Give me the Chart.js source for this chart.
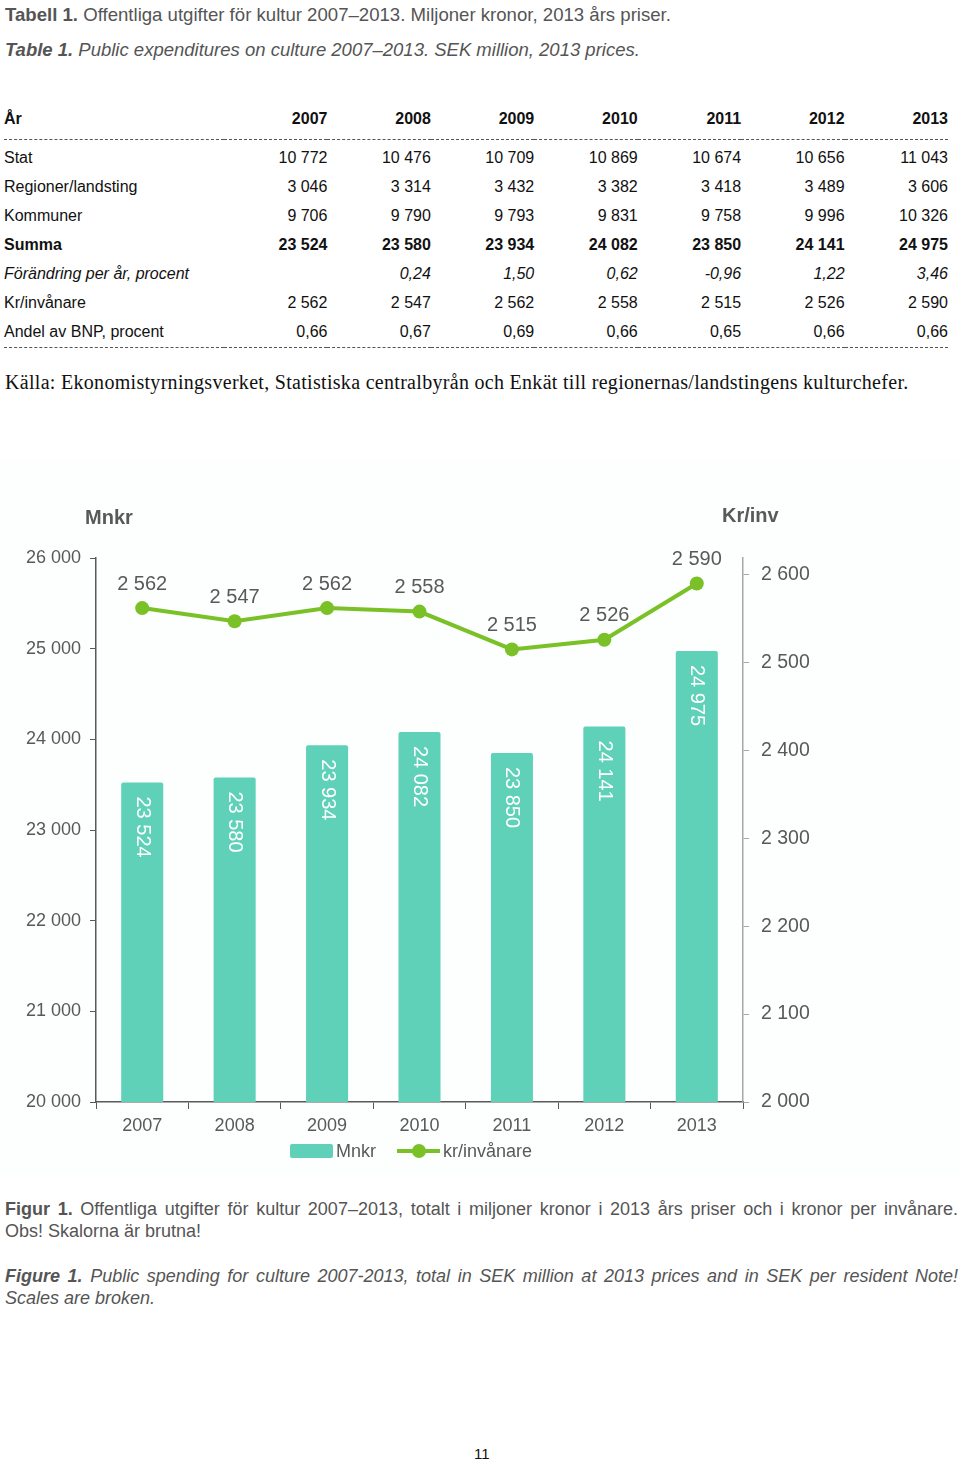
<!DOCTYPE html>
<html>
<head>
<meta charset="utf-8">
<script src="https://cdn.jsdelivr.net/npm/chart.js@4.4.1/dist/chart.umd.min.js"></script>
<style>
  body { margin: 0; background: #fff; width: 960px; height: 1461px; position: relative; overflow: hidden; font-family: "Liberation Sans", Arial, sans-serif; }
  .narrow { font-family: "Liberation Sans Narrow", "Arial Narrow", "Liberation Sans", sans-serif; }
  .cap { position: absolute; left: 5px; color: #555; font-size: 18px; white-space: nowrap; }
  table { position: absolute; left: 4px; top: 104px; border-collapse: collapse; width: 944px; font-size: 16px; color: #111; }
  td { padding: 0; line-height: 29px; height: 29px; text-align: right; white-space: nowrap; }
  td:first-child { text-align: left; width: 220px; }
  tr.head td { font-weight: bold; height: 35px; vertical-align: top; border-bottom: 1px dashed #555; }
  tr.first td { height: 32px; vertical-align: bottom; }
  tr.last td { border-bottom: 1px dashed #555; height: 26px; line-height: 30px; vertical-align: top; }
  tr.sum td { font-weight: bold; }
  tr.chg td { font-style: italic; }
  #source { position: absolute; left: 5px; top: 371px; font-family: "Liberation Serif", "Times New Roman", serif; font-size: 20px; letter-spacing: 0.3px; color: #111; white-space: nowrap; }
  #chartBox { position: absolute; left: 0; top: 460px; width: 960px; height: 715px; background: #fdfefe; }
  #legend { position: absolute; top: 1141px; left: 290px; height: 20px; font-size: 18px; color: #595959; }
  #legend span { position: absolute; top: 0; line-height: 20px; white-space: nowrap; }
  .jl { display: block; text-align: justify; text-align-last: justify; width: 953px; }
</style>
</head>
<body>
<div class="cap narrow" style="top:4px;font-size:18.6px;"><b>Tabell 1.</b> Offentliga utgifter för kultur 2007–2013. Miljoner kronor, 2013 års priser.</div>
<div class="cap narrow" style="top:39px;font-size:18.5px;font-style:italic;"><b>Table 1.</b> Public expenditures on culture 2007–2013. SEK million, 2013 prices.</div>

<table id="tbl"></table>

<div id="source">Källa: Ekonomistyrningsverket, Statistiska centralbyrån och Enkät till regionernas/landstingens kulturchefer.</div>

<div id="chartBox"><canvas id="combo" width="960" height="715"></canvas></div>
<div id="legend">
  <span style="left:0;top:3px;width:43px;height:14px;background:#5fd1b9;border-radius:2px;"></span>
  <span style="left:46px;">Mnkr</span>
  <span style="left:107px;top:8px;width:43px;height:4px;background:#7ac127;"></span>
  <span style="left:122px;top:3px;width:14px;height:14px;border-radius:50%;background:#7ac127;"></span>
  <span style="left:153px;">kr/invånare</span>
</div>

<div class="cap narrow" style="top:1199px;width:953px;white-space:normal;">
  <span class="jl"><b>Figur 1.</b> Offentliga utgifter för kultur 2007–2013, totalt i miljoner kronor i 2013 års priser och i kronor per invånare.</span>
  <span style="display:block;margin-top:1px;">Obs! Skalorna är brutna!</span>
</div>
<div class="cap narrow" style="top:1266px;width:953px;white-space:normal;font-style:italic;">
  <span class="jl"><b>Figure 1.</b> Public spending for culture 2007-2013, total in SEK million at 2013 prices and in SEK per resident Note!</span>
  <span style="display:block;margin-top:1px;">Scales are broken.</span>
</div>

<div style="position:absolute;top:1445px;left:474px;font-size:15px;color:#111;">11</div>

<script>
// table data
const tableYears = ['2007', '2008', '2009', '2010', '2011', '2012', '2013'];
const stat = ['10 772', '10 476', '10 709', '10 869', '10 674', '10 656', '11 043'];
const regioner = ['3 046', '3 314', '3 432', '3 382', '3 418', '3 489', '3 606'];
const kommuner = ['9 706', '9 790', '9 793', '9 831', '9 758', '9 996', '10 326'];
const summa = ['23 524', '23 580', '23 934', '24 082', '23 850', '24 141', '24 975'];
const forandring = ['', '0,24', '1,50', '0,62', '-0,96', '1,22', '3,46'];
const krInvanare = ['2 562', '2 547', '2 562', '2 558', '2 515', '2 526', '2 590'];
const andelBnp = ['0,66', '0,67', '0,69', '0,66', '0,65', '0,66', '0,66'];

// chart data
const years = ['2007', '2008', '2009', '2010', '2011', '2012', '2013'];
const mnkr = [23524, 23580, 23934, 24082, 23850, 24141, 24975];
const krPerInv = [2562, 2547, 2562, 2558, 2515, 2526, 2590];
const leftMin = 20000, leftMax = 26000, leftStep = 1000;
const rightMin = 2000, rightMax = 2619, rightStep = 100;

const rows = [
  ['År', tableYears, 'head'],
  ['Stat', stat, 'first'],
  ['Regioner/landsting', regioner, ''],
  ['Kommuner', kommuner, ''],
  ['Summa', summa, 'sum'],
  ['Förändring per år, procent', forandring, 'chg'],
  ['Kr/invånare', krInvanare, ''],
  ['Andel av BNP, procent', andelBnp, 'last']
];
document.getElementById('tbl').innerHTML = rows.map(r =>
  '<tr class="' + r[2] + '"><td>' + r[0] + '</td>' + r[1].map(v => '<td>' + v + '</td>').join('') + '</tr>'
).join('');

const fmt = v => String(Math.round(v)).replace(/\B(?=(\d{3})+(?!\d))/g, ' ');
const txt = '#595959';

// value labels + axis titles
const labelPlugin = {
  id: 'labels',
  afterDatasetsDraw(chart) {
    const ctx = chart.ctx;
    const area = chart.chartArea;
    ctx.save();
    // bar labels, rotated
    const bars = chart.getDatasetMeta(1);
    ctx.fillStyle = '#fff';
    ctx.font = '20px "Liberation Sans", Arial, sans-serif';
    ctx.textAlign = 'left';
    ctx.textBaseline = 'middle';
    bars.data.forEach((b, i) => {
      ctx.save();
      ctx.translate(b.x, b.y + 14);
      ctx.rotate(Math.PI / 2);
      ctx.fillText(fmt(mnkr[i]), 0, 0);
      ctx.restore();
    });
    // point labels
    const pts = chart.getDatasetMeta(0);
    ctx.fillStyle = txt;
    ctx.textAlign = 'center';
    pts.data.forEach((p, i) => {
      ctx.fillText(fmt(krPerInv[i]), p.x, p.y - 24);
    });
    // axis titles
    ctx.font = 'bold 20px "Liberation Sans", Arial, sans-serif';
    ctx.textAlign = 'left';
    ctx.fillText('Mnkr', area.left - 11, area.top - 40);
    ctx.fillText('Kr/inv', area.right - 21, area.top - 42);
    ctx.restore();
  }
};

new Chart(document.getElementById('combo'), {
  type: 'bar',
  data: {
    labels: years,
    datasets: [{
      type: 'line',
      label: 'kr/invånare',
      data: krPerInv,
      yAxisID: 'yR',
      borderColor: '#7ac127',
      backgroundColor: '#7ac127',
      borderWidth: 4,
      pointRadius: 7,
      pointBackgroundColor: '#7ac127',
      pointBorderWidth: 0,
      tension: 0,
      order: 0
    }, {
      label: 'Mnkr',
      data: mnkr,
      yAxisID: 'yL',
      backgroundColor: '#5fd1b9',
      barPercentage: 0.91,
      categoryPercentage: 0.5,
      borderRadius: 2,
      borderSkipped: 'bottom',
      order: 1
    }]
  },
  options: {
    responsive: false,
    animation: false,
    layout: { padding: { top: 98, left: 0, right: 0, bottom: 0 } },
    plugins: { legend: { display: false }, tooltip: { enabled: false } },
    scales: {
      x: {
        afterFit: s => { s.height = 73; },
        grid: { offset: true, drawOnChartArea: false, drawTicks: true, tickLength: 7, color: txt },
        border: { color: txt, width: 1.5 },
        ticks: { color: txt, font: { size: 18 }, padding: 6 }
      },
      yL: {
        position: 'left',
        min: leftMin, max: leftMax,
        afterFit: s => { s.width = 96; },
        grid: { drawOnChartArea: false, tickLength: 6, color: txt },
        border: { color: txt, width: 1.5 },
        ticks: { stepSize: leftStep, color: txt, font: { size: 18 }, padding: 9, callback: v => fmt(v) }
      },
      yR: {
        position: 'right',
        min: rightMin, max: rightMax,
        afterFit: s => { s.width = 217; },
        grid: { drawOnChartArea: false, tickLength: 6, color: '#a6a6a6' },
        border: { color: '#a6a6a6', width: 1.5 },
        ticks: { stepSize: rightStep, includeBounds: false, color: txt, font: { size: 19.5 }, padding: 12, callback: v => fmt(v) }
      }
    }
  },
  plugins: [labelPlugin]
});
</script>
</body>
</html>
